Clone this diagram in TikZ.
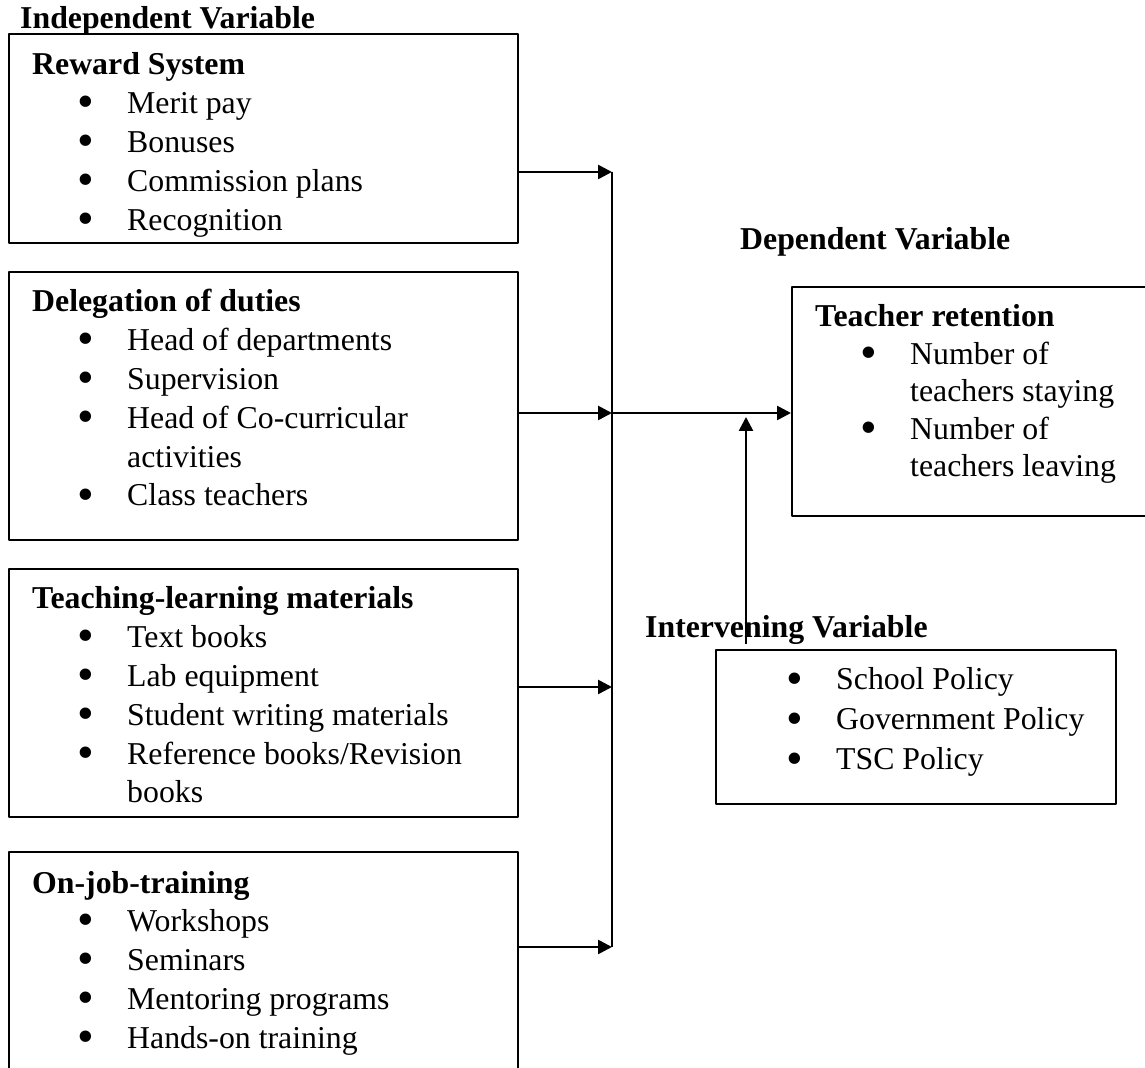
\documentclass[tikz,border=0pt]{standalone}
\usepackage{fontspec}
\setmainfont{Liberation Serif}
\usetikzlibrary{arrows.meta}
\newcommand{\bdot}{\raisebox{-0.13em}{\scalebox{1.5}{\textbullet}}}
\newcommand{\bitem}[1]{\makebox[95bp][l]{\hspace*{45bp}\bdot}#1}
\newcommand{\bcont}[1]{\hspace*{95bp}#1}
\begin{document}
\begin{tikzpicture}[>={Triangle[length=14bp,width=14bp]},line join=bevel,
  varbox/.style={draw,line width=2bp,inner sep=0pt},
  vartext/.style={anchor=base west,align=left,inner sep=0pt,
    font=\fontsize{31.8bp}{38.8bp}\selectfont},
  link/.style={line width=2.6bp}]
  \useasboundingbox (0bp,0bp) rectangle (1145bp,1068bp);
%%
  % Node: independent title
  \node[vartext] (indepTitle) at (20bp,1039bp) {\textbf{Independent Variable}};
  % Node: reward (text placed by its last line)
  \node[varbox,minimum width=509bp,minimum height=209bp] (reward) at (263.5bp,929.5bp) {};
  \node[vartext] (rewardText) at (32bp,837.8bp) {\textbf{Reward System}\\
    \bitem{Merit pay}\\
    \bitem{Bonuses}\\
    \bitem{Commission plans}\\
    \bitem{Recognition}};
  % Node: delegation
  \node[varbox,minimum width=509bp,minimum height=268bp] (delegation) at (263.5bp,662bp) {};
  \node[vartext] (delegationText) at (32bp,562bp) {\textbf{Delegation of duties}\\
    \bitem{Head of departments}\\
    \bitem{Supervision}\\
    \bitem{Head of Co-curricular}\\
    \bcont{activities}\\
    \bitem{Class teachers}};
  % Node: materials
  \node[varbox,minimum width=509bp,minimum height=248bp] (materials) at (263.5bp,375bp) {};
  \node[vartext] (materialsText) at (32bp,265bp) {\textbf{Teaching-learning materials}\\
    \bitem{Text books}\\
    \bitem{Lab equipment}\\
    \bitem{Student writing materials}\\
    \bitem{Reference books/Revision}\\
    \bcont{books}};
  % Node: training
  \node[varbox,minimum width=509bp,minimum height=236bp] (training) at (263.5bp,98bp) {};
  \node[vartext] (trainingText) at (32bp,19.8bp) {\textbf{On-job-training}\\
    \bitem{Workshops}\\
    \bitem{Seminars}\\
    \bitem{Mentoring programs}\\
    \bitem{Hands-on training}};
  % Node: dependent title
  \node[vartext] (depTitle) at (740bp,818bp) {\textbf{Dependent Variable}};
  % Node: retention
  \node[varbox,minimum width=358bp,minimum height=229bp] (retention) at (971bp,666.5bp) {};
  \node[vartext,font=\fontsize{31.8bp}{37.5bp}\selectfont] (retentionText) at (815bp,591bp) {\textbf{Teacher retention}\\
    \bitem{Number of}\\
    \bcont{teachers staying}\\
    \bitem{Number of}\\
    \bcont{teachers leaving}};
  % Node: intervening title
  \node[vartext] (intervTitle) at (645bp,430bp) {\textbf{Intervening Variable}};
  % Node: policy
  \node[varbox,minimum width=400bp,minimum height=154bp] (policy) at (916bp,341bp) {};
  \node[vartext,font=\fontsize{31.8bp}{40bp}\selectfont] (policyText) at (741bp,298bp) {\bitem{School Policy}\\
    \bitem{Government Policy}\\
    \bitem{TSC Policy}};
%
  % Bus points
  \coordinate (bus1) at (612bp,896bp);
  \coordinate (bus2) at (612bp,655bp);
  \coordinate (bus3) at (612bp,381bp);
  \coordinate (bus4) at (612bp,121bp);
  \coordinate (upTip) at (746bp,651bp);
  % Edge: bus
  \draw[link] (bus1) -- (bus4);
  % Edge: reward -> bus
  \draw[link,->] (reward.east |- bus1) -- (bus1);
  % Edge: delegation -> bus
  \draw[link,->] (delegation.east |- bus2) -- (bus2);
  % Edge: materials -> bus
  \draw[link,->] (materials.east |- bus3) -- (bus3);
  % Edge: training -> bus
  \draw[link,->] (training.east |- bus4) -- (bus4);
  % Edge: bus -> retention
  \draw[link,->] (bus2) -- (retention.west |- bus2);
  % Edge: policy -> retention line
  \draw[link,->] ([yshift=5bp]policy.north -| upTip) -- (upTip);
%
\end{tikzpicture}
\end{document}
